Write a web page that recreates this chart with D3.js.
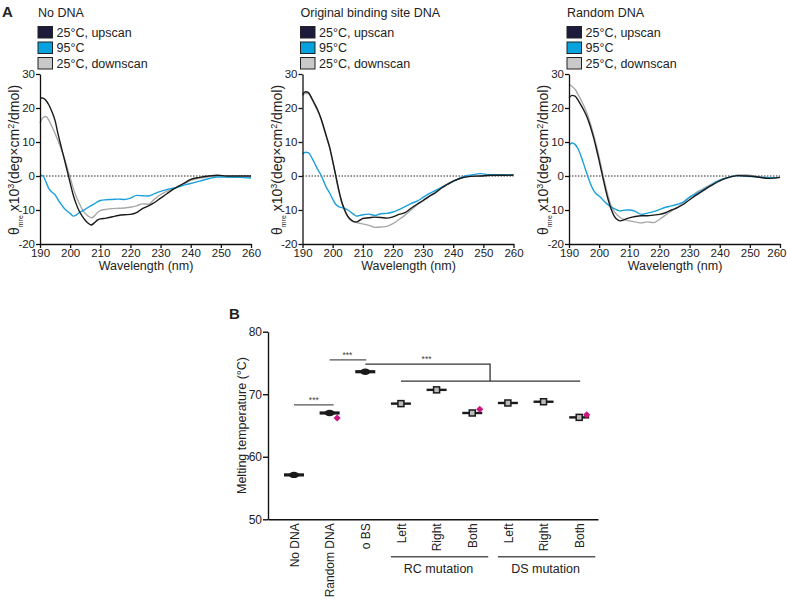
<!DOCTYPE html>
<html>
<head>
<meta charset="utf-8">
<script src="https://d3js.org/d3.v7.min.js"></script>
<style>
  body { margin: 0; background: #fff; }
  svg text { font-family: Arial, "Liberation Sans", sans-serif; fill: #222; }
</style>
</head>
<body>
<div id="my_dataviz"></div>
<script>

// ---- Panel A data: CD spectra (x10^3 deg cm2 / dmol) ----
var wavelengths = [190,191,192,193,194,195,196,197,198,199,200,201,202,203,204,205,206,207,208,209,210,
                   212,214,216,218,220,222,224,226,228,230,232,234,236,238,240,243,246,249,252,256,260];

var noDnaUp   = [23,22.9,22.2,20.8,18.8,16.3,12.3,8.7,5.2,1.6,-2,-5.5,-8.2,-10.3,-11.8,-13,-13.9,-14.4,-13.8,-13,-12.6,
                 -12.4,-12,-11.6,-11.4,-11.3,-10.8,-9.6,-8.8,-7.8,-6.5,-5.3,-4,-3,-2,-1,-0.4,0,0.2,0,0,0];
var noDnaHot  = [0.3,0,-1.8,-3.8,-4.8,-5.5,-7,-8.3,-9.5,-10.3,-11,-11.8,-11.5,-10.8,-10.3,-9.8,-9.2,-8.7,-8.2,-7.6,-7.2,
                 -7,-6.9,-6.8,-6.9,-6.5,-5.7,-5.8,-5.9,-5.2,-4.5,-4,-3.6,-3.2,-2.6,-2.2,-1.5,-0.8,-0.3,-0.3,-0.4,-0.6];
var noDnaDown = [15.5,17.2,17.5,16.3,14.5,12.5,10.3,8,5.5,2.5,-0.5,-3.5,-6,-8,-9.8,-11,-11.8,-12.3,-11.8,-10.8,-10.2,
                 -9.8,-9.6,-9.5,-9.4,-9.2,-8.8,-8.2,-8.3,-6.8,-5.5,-4.5,-3.8,-3,-2.2,-1.3,-0.6,-0.2,0,-0.3,-0.4,-0.3];

var obsUp   = [24,24.8,24.5,23,21.3,19.5,17.3,14.5,11.5,8.5,4.5,0.3,-4,-7.5,-10,-11.8,-12.8,-13.4,-13.5,-13,-12.5,
               -12.3,-12.1,-12.2,-12.4,-12,-11.3,-10.8,-9.5,-8.3,-7.2,-6,-5,-3.6,-2.5,-1.5,-0.5,-0.1,0,0.2,0.2,0.3];
var obsHot  = [6.5,7,6.8,5.5,3.8,2,0.5,-1.5,-3.5,-5,-6.8,-8.3,-9,-9.3,-9.5,-10,-10.6,-11.3,-11.8,-11.6,-11.4,
               -11.2,-11.6,-11.1,-11,-10.6,-9.9,-9,-8.1,-7.4,-6.3,-5.2,-4.3,-3.4,-2.5,-1.6,-0.3,0.3,0.7,0.4,0.4,0.2];
var obsDown = [23.5,24.3,24.2,22.8,21,19.2,17,14.2,11.2,8.2,4.2,0,-4.2,-7.8,-10.3,-12,-13,-13.5,-13.7,-13.9,-14.1,
               -14.5,-15.1,-15,-14.8,-14,-12.8,-11.5,-10,-8.5,-7.3,-6,-4.8,-3.5,-2.3,-1.5,-0.5,0,0,0.1,0.2,0.3];

var rndUp   = [23,23.7,23.5,22.3,20.8,19.2,17.3,14.8,11.8,8.3,4.5,0.5,-3.5,-7,-9.8,-11.8,-12.8,-13.2,-13,-12.6,-12.3,
               -11.9,-11.7,-11.7,-11.5,-11.3,-10.8,-10,-9.3,-8.3,-7,-5.7,-4.6,-3.4,-2.4,-1.4,-0.4,0.1,0,-0.2,-0.7,-0.4];
var rndHot  = [9,9.7,9.3,8,5.8,3.2,0.5,-2,-4,-5.2,-5.9,-6.8,-7.7,-8.5,-9.1,-9.6,-10,-10.3,-10.1,-10,-10,
               -10.4,-11.3,-10.9,-10.5,-9.9,-9.2,-8.8,-8.3,-7.6,-6.2,-5.3,-4.3,-3.3,-2.2,-1.2,-0.4,0.1,-0.1,-0.2,-0.5,-0.4];
var rndDown = [27,26.3,25.5,24,22.3,20.5,18.3,15.7,12.7,9.3,5.5,1.5,-2.5,-6,-8.8,-10.5,-11.5,-12.2,-12.7,-13,-13.2,
               -13.5,-13.8,-13.5,-13.7,-12.8,-11.5,-10.3,-9.2,-7.8,-6.4,-5,-4,-3,-2,-1.2,-0.4,0.3,0.3,-0.1,-0.5,-0.4];

var legendLabels = ["25°C, upscan", "95°C", "25°C, downscan"];
var legendFills  = ["#1d1b3b", "#05a2dd", "#c9c9c9"];
var lineColors   = ["#1a1a1a", "#1ba1dc", "#a8a8a8"];

// ---- Panel B data: melting temperatures ----
var tmCategories = ["No DNA", "Random DNA", "o BS", "Left", "Right", "Both", "Left", "Right", "Both"];
var tmMean   = [57.1, 67.0, 73.6, 68.5, 70.7, 67.0, 68.6, 68.8, 66.3];
var tmErr    = [0.35, 0.3, 0.3, 0.2, 0.2, 0.2, 0.2, 0.2, 0.2];
var tmExtra  = [null, 66.2, null, null, null, 67.6, null, null, 66.7];
var tmTicks  = [50, 60, 70, 80];

var svg = d3.select("#my_dataviz")
  .append("svg")
    .attr("width", 787)
    .attr("height", 599);

// panel letters
svg.append("text").attr("x", 2).attr("y", 17).style("font-weight", "bold").style("font-size", "15px").text("A");
svg.append("text").attr("x", 229).attr("y", 319).style("font-weight", "bold").style("font-size", "15px").text("B");

var panels = [
  {title: "No DNA", left: 40, series: [noDnaUp, noDnaHot, noDnaDown]},
  {title: "Original binding site DNA", left: 302.5, series: [obsUp, obsHot, obsDown]},
  {title: "Random DNA", left: 569, series: [rndUp, rndHot, rndDown]}
];

panels.forEach(function(p) {
  var g = svg.append("g");
  var x = d3.scaleLinear().domain([190, 260]).range([p.left, p.left + 211]);
  var y = d3.scaleLinear().domain([-20, 30]).range([244, 74]);

  // title + legend
  g.append("text").attr("x", p.left - 2).attr("y", 17).style("font-size", "12.5px").text(p.title);
  legendLabels.forEach(function(lab, i) {
    var cy = 32 + i * 15.5;
    g.append("rect")
      .attr("x", p.left - 2).attr("y", cy - 5.5)
      .attr("width", 14.5).attr("height", 11.5)
      .style("fill", legendFills[i]).style("stroke", "#222").style("stroke-width", 1);
    g.append("text").attr("x", p.left + 16.5).attr("y", cy + 4.5).style("font-size", "12.5px").text(lab);
  });

  // zero line
  g.append("line")
    .attr("x1", x(190)).attr("x2", x(260)).attr("y1", y(0)).attr("y2", y(0))
    .style("stroke", "#222").style("stroke-width", 1).style("stroke-dasharray", "1.5,1.5");

  // curves: downscan, 95C, upscan
  var line = d3.line()
    .x(function(d, i) { return x(wavelengths[i]); })
    .y(function(d) { return y(d); })
    .curve(d3.curveMonotoneX);
  [2, 1, 0].forEach(function(k) {
    g.append("path")
      .datum(p.series[k])
      .attr("d", line)
      .style("fill", "none")
      .style("stroke", lineColors[k])
      .style("stroke-width", 1.4);
  });

  // axes
  var xAxis = g.append("g")
    .attr("transform", "translate(0,244)")
    .call(d3.axisBottom(x).tickValues(d3.range(190, 261, 10)).tickSize(4).tickSizeOuter(0).tickPadding(1));
  var yAxis = g.append("g")
    .attr("transform", "translate(" + p.left + ",0)")
    .call(d3.axisLeft(y).tickValues([-20, -10, 0, 10, 20, 30]).tickSize(4).tickSizeOuter(0).tickPadding(1)
      .tickFormat(function(d) { return String(d); }));
  [xAxis, yAxis].forEach(function(a) {
    a.selectAll("path, line").style("stroke", "#111").style("stroke-width", 1.3);
    a.selectAll("text").style("font-size", "11.5px").style("fill", "#222").style("font-family", "Arial, 'Liberation Sans', sans-serif");
  });
  // keep the last wavelength label inside the page
  xAxis.selectAll(".tick text").filter(function(d) { return d === 260 && p.left + 211 > 770; })
    .attr("text-anchor", "end").attr("x", 786 - (p.left + 211));

  g.append("text")
    .attr("x", p.left + 106).attr("y", 270)
    .attr("text-anchor", "middle").style("font-size", "12.5px")
    .text("Wavelength (nm)");

  // y label
  var yl = g.append("text")
    .attr("transform", "translate(" + (p.left - 21) + ",160) rotate(-90)")
    .attr("text-anchor", "middle").style("font-size", "14px");
  yl.append("tspan").text("θ");
  yl.append("tspan").attr("baseline-shift", "sub").style("font-size", "7px").text("mre");
  yl.append("tspan").text(" x10");
  yl.append("tspan").attr("baseline-shift", "super").style("font-size", "9px").text("3");
  yl.append("tspan").text("(deg×cm");
  yl.append("tspan").attr("baseline-shift", "super").style("font-size", "9px").text("2");
  yl.append("tspan").text("/dmol)");
});

// ---- Panel B ----
var gb = svg.append("g");
var idx = d3.range(tmCategories.length);
var xb = d3.scalePoint().domain(idx).range([268, 598]).padding(0.628).align(0.58);
var yb = d3.scaleLinear().domain([50, 80]).range([519.3, 331.7]);

var xbAxis = gb.append("g")
  .attr("transform", "translate(0," + yb(50) + ")")
  .call(d3.axisBottom(xb).tickSize(0).tickSizeOuter(0).tickFormat(function(i) { return tmCategories[i]; }));
xbAxis.selectAll("text")
  .attr("transform", "rotate(-90)")
  .attr("text-anchor", "end")
  .attr("x", -4).attr("y", 0).attr("dy", "0.36em");

var ybAxis = gb.append("g")
  .attr("transform", "translate(268,0)")
  .call(d3.axisLeft(yb).tickValues(tmTicks).tickSize(5).tickSizeOuter(0).tickPadding(1));
[xbAxis, ybAxis].forEach(function(a) {
  a.selectAll("path, line").style("stroke", "#111").style("stroke-width", 1.4);
  a.selectAll("text").style("font-size", "12px").style("fill", "#222").style("font-family", "Arial, 'Liberation Sans', sans-serif");
});

gb.append("text")
  .attr("transform", "translate(246," + yb(65) + ") rotate(-90)")
  .attr("text-anchor", "middle").style("font-size", "12.5px")
  .text("Melting temperature (°C)");

// group brackets under labels
var groups = [{label: "RC mutation", from: 3, to: 5}, {label: "DS mutation", from: 6, to: 8}];
groups.forEach(function(gr) {
  gb.append("line")
    .attr("x1", xb(gr.from) - 10).attr("x2", xb(gr.to) + 16)
    .attr("y1", 556.7).attr("y2", 556.7)
    .style("stroke", "#555").style("stroke-width", 1.4);
  gb.append("text")
    .attr("x", (xb(gr.from) + xb(gr.to)) / 2 + 2).attr("y", 572.5)
    .attr("text-anchor", "middle").style("font-size", "12.5px")
    .text(gr.label);
});

// significance lines
function stars(xc, yc) {
  gb.append("text").attr("x", xc).attr("y", yc).attr("text-anchor", "middle")
    .style("font-size", "8.5px").style("fill", "#444").text("***");
}
gb.append("line").attr("x1", xb(0)).attr("x2", xb(1) + 4).attr("y1", yb(68.3)).attr("y2", yb(68.3))
  .style("stroke", "#555").style("stroke-width", 1.3);
stars((xb(0) + xb(1) + 4) / 2, yb(68.3) - 2);
gb.append("line").attr("x1", xb(1)).attr("x2", xb(2) + 1).attr("y1", yb(75.5)).attr("y2", yb(75.5))
  .style("stroke", "#555").style("stroke-width", 1.3);
stars((xb(1) + xb(2)) / 2, yb(75.5) - 2);

var joint = (xb(5) + xb(6)) / 2;
gb.append("path")
  .attr("d", "M" + xb(2) + "," + yb(74.8) + "H" + joint + "V" + yb(72.1))
  .style("fill", "none").style("stroke", "#333").style("stroke-width", 1.3);
gb.append("line").attr("x1", xb(3)).attr("x2", xb(8) + 1).attr("y1", yb(72.1)).attr("y2", yb(72.1))
  .style("stroke", "#333").style("stroke-width", 1.3);
stars(xb(4) - 10, yb(74.8) - 2);

// markers
idx.forEach(function(i) {
  var cx = xb(i), cy = yb(tmMean[i]);
  gb.append("line")
    .attr("x1", cx).attr("x2", cx)
    .attr("y1", yb(tmMean[i] - tmErr[i])).attr("y2", yb(tmMean[i] + tmErr[i]))
    .style("stroke", "#222").style("stroke-width", 1);
  gb.append("line")
    .attr("x1", cx - 10).attr("x2", cx + 10).attr("y1", cy).attr("y2", cy)
    .style("stroke", "#1a1a1a").style("stroke-width", i < 3 ? 3.2 : 2.4);
  if (i < 3) {
    gb.append("ellipse").attr("cx", cx).attr("cy", cy).attr("rx", 5).attr("ry", 3.2)
      .style("fill", "#1a1a1a");
  } else {
    gb.append("rect").attr("x", cx - 3).attr("y", cy - 3).attr("width", 6).attr("height", 6)
      .style("fill", "#bbb").style("stroke", "#1a1a1a").style("stroke-width", 1.5);
  }
  if (tmExtra[i] !== null) {
    gb.append("path")
      .attr("d", d3.symbol(d3.symbolSquare, 26)())
      .attr("transform", "translate(" + (cx + 7.5) + "," + yb(tmExtra[i]) + ") rotate(45)")
      .style("fill", "#cc157f");
  }
});

</script>
</body>
</html>
